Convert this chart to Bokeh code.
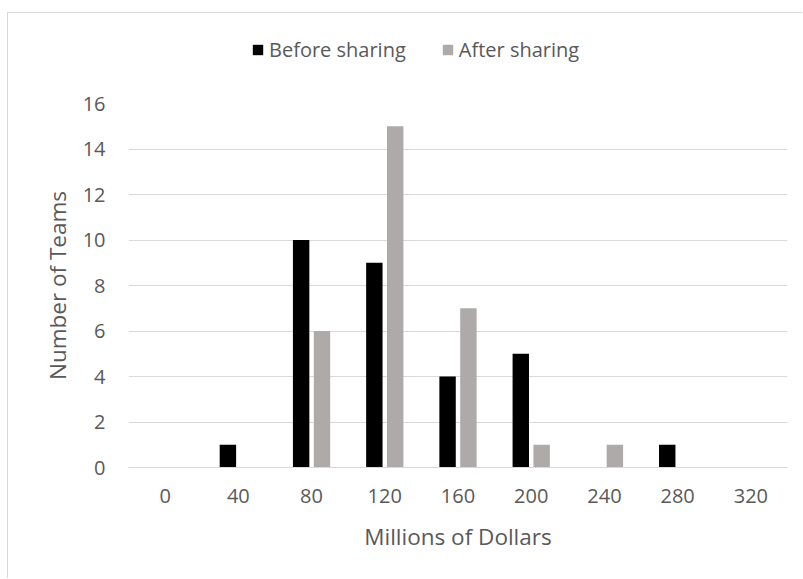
from bokeh.plotting import figure
from bokeh.layouts import column
from bokeh.models import FactorRange, Range1d, Legend, LegendItem, SingleIntervalTicker, ColumnDataSource
from bokeh.transform import dodge
from bokeh.embed import file_html
from bokeh.resources import INLINE

categories = ["0", "40", "80", "120", "160", "200", "240", "280", "320"]
before_sharing = [0, 1, 10, 9, 4, 5, 0, 1, 0]
after_sharing = [0, 0, 6, 15, 7, 1, 1, 0, 0]
series_names = ["Before sharing", "After sharing"]
series_colors = ["#000000", "#aeaaaa"]

FONT = "Open Sans"
TXT = "#595959"
GRID = "#d9d9d9"

source = ColumnDataSource(dict(cat=categories, before=before_sharing, after=after_sharing))
x_range = FactorRange(*categories, range_padding=0)

# ---- main chart ----
p = figure(
    x_range=x_range,
    y_range=Range1d(0, 16),
    width=794, height=499,
    min_border_left=120, min_border_right=15, min_border_top=24, min_border_bottom=111,
    output_backend="svg", toolbar_location=None,
)
p.outline_line_color = None

bw = 0.2242
off = 0.1424
p.vbar(x=dodge("cat", -off, range=x_range), top="before", width=bw, source=source,
       fill_color=series_colors[0], line_color=None)
p.vbar(x=dodge("cat", off, range=x_range), top="after", width=bw, source=source,
       fill_color=series_colors[1], line_color=None)

p.xgrid.grid_line_color = None
p.ygrid.grid_line_color = GRID
p.ygrid.grid_line_width = 1
p.yaxis.ticker = SingleIntervalTicker(interval=2)
p.yaxis.axis_line_color = None
p.xaxis.axis_line_color = GRID
p.xaxis.axis_line_width = 1
for ax in (p.xaxis, p.yaxis):
    ax.major_tick_line_color = None
    ax.minor_tick_line_color = None
    ax.major_tick_out = 0
    ax.major_tick_in = 0
    ax.minor_tick_out = 0
    ax.minor_tick_in = 0
    ax.major_label_text_font = FONT
    ax.major_label_text_font_size = "20px"
    ax.major_label_text_color = TXT
    ax.axis_label_text_font = FONT
    ax.axis_label_text_font_size = "22.5px"
    ax.axis_label_text_font_style = "normal"
    ax.axis_label_text_color = TXT
p.yaxis.major_label_standoff = 23
p.xaxis.major_label_standoff = 21
p.xaxis.axis_label = "Millions of Dollars"
p.yaxis.axis_label = "Number of Teams"
p.xaxis.axis_label_standoff = 15
p.yaxis.axis_label_standoff = 7

# ---- legend strip (series renderers kept outside its visible y window) ----
lf = figure(width=794, height=66, x_range=x_range, y_range=Range1d(100, 101),
            x_axis_type=None, y_axis_type=None,
            min_border=0, output_backend="svg", toolbar_location=None)
lf.outline_line_color = None
lf.grid.visible = False
items = []
for name, col, field, sign in zip(series_names, series_colors, ["before", "after"], [-1, 1]):
    r = lf.vbar(x=dodge("cat", sign * off, range=x_range), top=field, width=bw, source=source,
                fill_color=col, line_color=None)
    items.append(LegendItem(label=name, renderers=[r]))

legend = Legend(
    items=items,
    orientation="horizontal",
    location=(123, 16),
    border_line_color=None, background_fill_alpha=0,
    padding=0, margin=0, spacing=35,
    glyph_width=13, glyph_height=13, label_standoff=5,
    label_text_font=FONT, label_text_font_size="20px", label_text_color=TXT,
)
lf.add_layout(legend, "center")

layout = column(lf, p, spacing=0,
                styles={"margin-left": "7px", "margin-top": "12px",
                        "border-left": f"1px solid {GRID}", "border-top": f"1px solid {GRID}"})

open("out.html", "w").write(file_html(layout, INLINE))
